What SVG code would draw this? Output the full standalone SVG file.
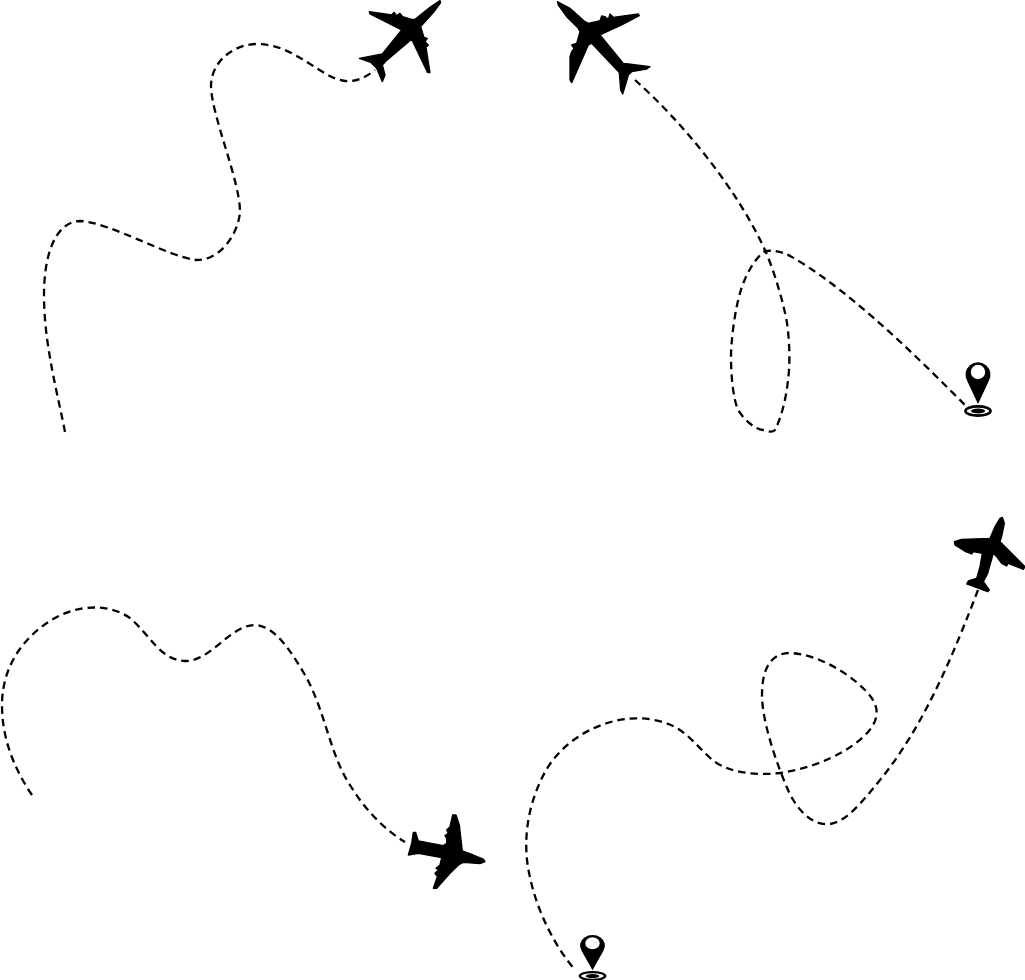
<svg xmlns="http://www.w3.org/2000/svg" width="1025" height="980" viewBox="0 0 1025 980">
<style>
.route{fill:none;stroke:#000;stroke-width:2.3;stroke-dasharray:7.5 5}
.plane{fill:#000;stroke:#000;stroke-width:4;stroke-linejoin:round}
.pinbody{fill:#000;fill-rule:evenodd}
.ring{fill:none;stroke:#000;stroke-width:2.6}
</style>
<defs>
<g id="pin">
<path class="pinbody" d="M0,30 L-10.8,7 A12.5,12.5 0 1 1 10.8,7 Z M-7.2,-2 A7.2,7.2 0 1 0 7.2,-2 A7.2,7.2 0 1 0 -7.2,-2 Z"/>
<ellipse class="ring" cx="0" cy="37" rx="12.6" ry="4.6"/>
<ellipse cx="0" cy="37" rx="7" ry="2.4" fill="#000"/>
</g>
</defs>
<g id="connectors">
<path id="route-1" class="route" d="M65,432 C58,395 44,345 44,295 C44,255 55,222 80,221 C110,222 170,258 197,260 C220,260 238,235 240,212 C240,180 211,115 211,85 C212,60 235,44 257,44 C295,44 320,78 345,81 C355,82 365,78 375,70"/>
<path id="route-2" class="route" d="M635,80 C680,120 735,185 765,250 C775,273 784,305 787,323 C790,345 790,365 788,380 C786,400 781,418 775,430 C772,433 768,431 763,430 C755,429 745,421 738,410 C733,398 731,375 731,357 C731,340 735,310 740,293 C744,280 750,265 763,252 C768,250 772,251 775,251 C785,252 795,258 817,273 C870,310 925,365 965,405"/>
<path id="route-3" class="route" d="M32,795 C15,770 2,740 2,705 C2,665 25,635 55,618 C80,604 110,604 130,618 C150,635 160,660 185,661 C210,662 230,625 255,625 C275,626 290,650 305,675 C325,710 330,755 350,785 C365,810 385,830 405,842"/>
<path id="route-4" class="route" d="M978,590 C955,650 925,725 880,780 C860,805 845,822 830,824 C812,826 797,810 788,790 C775,760 762,720 762,695 C762,670 770,653 790,653 C815,654 845,670 865,690 C880,705 880,718 868,732 C850,752 815,768 780,773 C755,776 730,772 715,762 C700,750 690,735 675,727 C660,719 640,717 625,719 C590,724 560,745 545,772 C530,800 524,830 527,860 C532,900 550,940 575,970"/>
</g>
<g id="plane-1" transform="translate(350,0) scale(.3333)">
<path class="plane" d="M270,2 L272,8 L250,38 L212,80 L222,112 L232,115 L225,125 L235,135 L228,142 L240,218 L233,218 L185,118 L108,183 L97,195 L105,225 L97,245 L80,205 L62,187 L28,175 L70,167 L97,162 L155,90 L60,42 L58,35 L125,45 L132,37 L140,47 L150,40 L158,50 L185,58 L195,58 L240,22 Z"/>
</g>
<g id="plane-2" transform="translate(550,0) scale(.3333)">
<path class="plane" d="M22,5 L60,25 L105,65 L115,70 L150,62 L155,48 L165,50 L175,58 L180,42 L190,52 L265,42 L268,47 L215,75 L150,105 L220,190 L235,192 L300,200 L290,207 L245,215 L235,225 L228,250 L218,282 L212,270 L208,218 L125,130 L115,135 L65,248 L60,240 L60,170 L65,155 L72,145 L65,135 L80,130 L90,95 L85,85 L50,50 L25,15 Z"/>
</g>
<g id="plane-3" transform="translate(945,510) scale(.3333)">
<path class="plane" d="M172,22 L178,40 L170,80 L165,95 L240,170 L235,178 L190,160 L185,168 L170,160 L155,140 L145,130 L128,190 L115,215 L133,240 L128,245 L65,222 L70,213 L95,205 L105,170 L112,130 L85,125 L80,132 L62,125 L30,105 L28,95 L50,88 L135,85 L150,50 L165,25 Z"/>
</g>
<g id="plane-4" transform="translate(400,805) scale(.3333)">
<path class="plane" d="M255,170 L240,176 L190,172 L178,178 L150,205 L110,250 L100,250 L112,215 L105,205 L115,195 L108,190 L120,180 L125,158 L55,145 L25,150 L35,115 L40,82 L47,82 L55,108 L130,122 L140,115 L140,100 L135,92 L145,85 L140,75 L150,65 L158,30 L168,30 L178,60 L187,138 L220,150 L250,162 Z"/>
</g>
<g id="pin-1"><use href="#pin" transform="translate(978,374)"/></g>
<g id="pin-2"><use href="#pin" transform="translate(592.5,945) scale(1,.84)"/></g>
</svg>
